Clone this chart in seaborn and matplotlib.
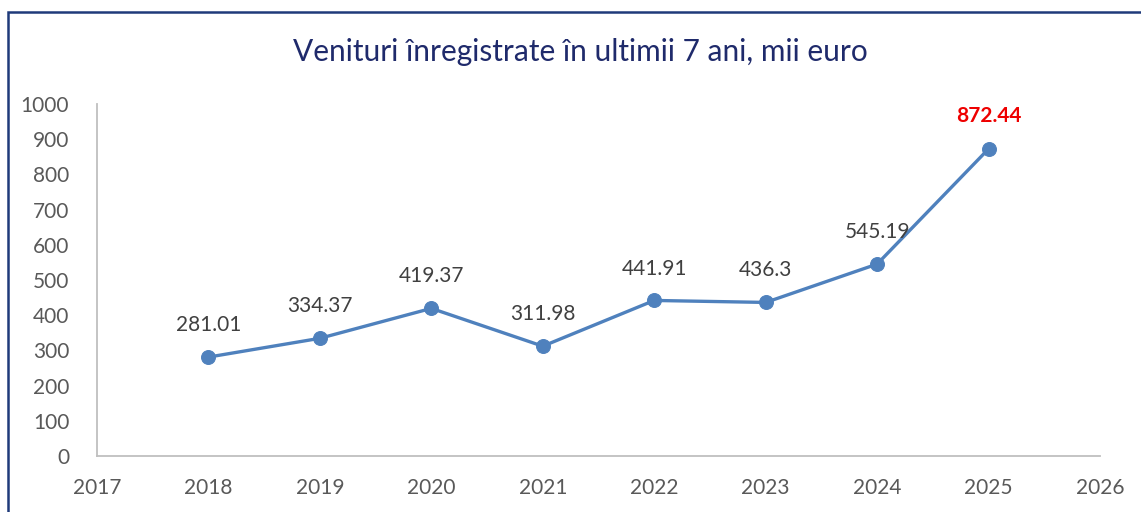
import matplotlib
matplotlib.use("Agg")
import matplotlib.pyplot as plt
import seaborn as sns
import pandas as pd
from matplotlib.patches import Rectangle

years = [2018, 2019, 2020, 2021, 2022, 2023, 2024, 2025]
values = [281.01, 334.37, 419.37, 311.98, 441.91, 436.3, 545.19, 872.44]
labels = ["281.01", "334.37", "419.37", "311.98", "441.91", "436.3", "545.19", "872.44"]
title = "Venituri înregistrate în ultimii 7 ani, mii euro"

sns.set_style("white")
plt.rcParams['font.family'] = ['Lato', 'DejaVu Sans']

df = pd.DataFrame({"year": years, "value": values})

fig = plt.figure(figsize=(11.41, 5.12), dpi=100)
ax = fig.add_axes([97/1141, 56/512, (1100-97)/1141, (456-104)/512])

line_color = "#4f81bd"
sns.lineplot(data=df, x="year", y="value", ax=ax, color=line_color, linewidth=2.4,
             marker="o", markersize=10, markeredgecolor=line_color, markerfacecolor=line_color)

ax.set_xlim(2017, 2026)
ax.set_ylim(0, 1000)
ax.set_xticks(range(2017, 2027))
ax.set_yticks(range(0, 1001, 100))
ax.set_xlabel("")
ax.set_ylabel("")
ax.tick_params(axis="both", length=0, labelsize=15, colors="#595959")
ax.tick_params(axis="x", pad=16)
ax.tick_params(axis="y", pad=20)
for s in ["top", "right"]:
    ax.spines[s].set_visible(False)
for s in ["left", "bottom"]:
    ax.spines[s].set_color("#bfbfbf")
    ax.spines[s].set_linewidth(1.3)

for i, (x, y, t) in enumerate(zip(years, values, labels)):
    if i == len(years) - 1:
        ax.annotate(t, (x, y), xytext=(0, 24), textcoords="offset points", ha="center",
                    va="center", fontsize=15, color="#ee0000", fontweight="bold")
    else:
        ax.annotate(t, (x, y), xytext=(0, 23), textcoords="offset points", ha="center",
                    va="center", fontsize=15, color="#404040")

fig.text(580/1141, 1 - 52/512, title, ha="center", va="center", fontsize=21.5, color="#1f2a6b")

fig.patches.append(Rectangle((8/1141, -0.1), 1.2, 1 - 12/512 + 0.1, transform=fig.transFigure,
                             fill=False, edgecolor="#1f3a7a", linewidth=1.8))

fig.savefig("out.png", dpi=100)
